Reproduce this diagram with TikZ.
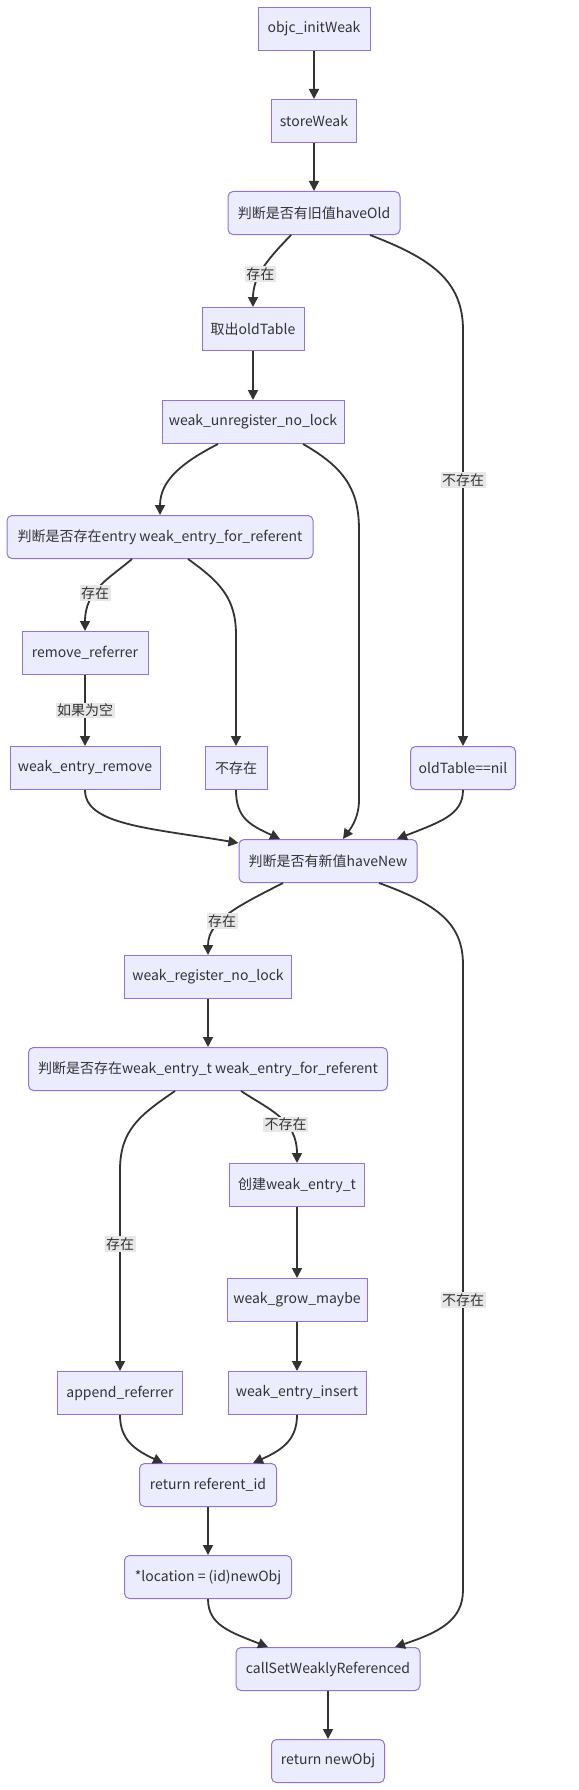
\documentclass[tikz,border=0pt]{standalone}
\usepackage{fontspec}
\setmainfont{Noto Sans CJK SC}
\usetikzlibrary{arrows.meta}
\definecolor{boxfill}{HTML}{ECECFF}
\definecolor{boxline}{HTML}{9370DB}
\definecolor{ink}{HTML}{333333}
\definecolor{lblfill}{HTML}{E8E8E8}

\begin{document}
\begin{tikzpicture}[x=1pt,y=-1pt,
    sq/.style={rectangle,draw=boxline,fill=boxfill,line width=1pt,minimum height=43pt,
      inner sep=2pt,text=ink,font=\fontsize{14pt}{17pt}\selectfont},
    rd/.style={sq,rounded corners=5pt},
    lb/.style={fill=lblfill,inner sep=1.5pt,text=ink,font=\fontsize{14pt}{17pt}\selectfont},
    >={Triangle[length=10pt,width=10pt]}]
    \useasboundingbox (0,0) rectangle (578,1790);

    \draw (314,29)   node[sq,minimum width=112pt](init){objc\_initWeak};
    \draw (314,121)  node[sq,minimum width=85pt](store){storeWeak};
    \draw (314,213)  node[rd,minimum width=172pt](hasold){判断是否有旧值haveOld};
    \draw (253,329)  node[sq,minimum width=102pt](oldtab){取出oldTable};
    \draw (253,422)  node[sq,minimum width=182pt](unreg){weak\_unregister\_no\_lock};
    \draw (160,537)  node[rd,minimum width=306pt](findold){判断是否存在entry weak\_entry\_for\_referent};
    \draw (85,653)   node[sq,minimum width=126pt](rmref){remove\_referrer};
    \draw (85,768)   node[sq,minimum width=150pt](rmentry){weak\_entry\_remove};
    \draw (236,768)  node[sq,minimum width=62pt](noentry){不存在};
    \draw (463,768)  node[rd,minimum width=105pt](oldnil){oldTable==nil};
    \draw (328,861)  node[rd,minimum width=178pt](hasnew){判断是否有新值haveNew};
    \draw (208,977)  node[sq,minimum width=167pt](reg){weak\_register\_no\_lock};
    \draw (208,1069) node[rd,minimum width=359pt](findnew){判断是否存在weak\_entry\_t weak\_entry\_for\_referent};
    \draw (297,1185) node[sq,minimum width=135pt](mkentry){创建weak\_entry\_t};
    \draw (297,1300) node[sq,minimum width=140pt](grow){weak\_grow\_maybe};
    \draw (120,1393) node[sq,minimum width=125pt](append){append\_referrer};
    \draw (297,1393) node[sq,minimum width=138pt](insert){weak\_entry\_insert};
    \draw (208,1485) node[rd,minimum width=137pt](retref){return referent\_id};
    \draw (208,1577) node[rd,minimum width=167pt](loc){*location = (id)newObj};
    \draw (328,1669) node[rd,minimum width=184pt](callset){callSetWeaklyReferenced};
    \draw (328,1761) node[rd,minimum width=113pt](retobj){return newObj};

    \begin{scope}[draw=ink, line width=1.8pt]
        \path[->] (init) edge (store);
        \path[->] (store) edge (hasold);
        \path[->] (oldtab) edge (unreg);
        \path[->] (rmref) edge node[lb] {如果为空} (rmentry);
        \path[->] (reg) edge (findnew);
        \path[->] (mkentry) edge (grow);
        \path[->] (grow) edge (insert);
        \path[->] (retref) edge (loc);
        \path[->] (callset) edge (retobj);
    \end{scope}

    \begin{scope}[draw=ink, line width=1.8pt]
        % old value branch
        \draw[->] ([xshift=-23pt]hasold.south) .. controls (270,257) and (253,275) .. node[lb,pos=0.6] {存在} (oldtab.north);
        \draw[->] ([xshift=56pt]hasold.south) .. controls (430,258) and (463,280) .. (463,330)
            -- node[lb,pos=0.36] {不存在} (oldnil.north);
        \draw[->] ([xshift=-35pt]unreg.south) .. controls (183,462) and (160,480) .. (findold.north);
        \draw[->] ([xshift=50pt]unreg.south) .. controls (345,468) and (359,490) .. (359,530)
            -- (359,800) .. controls (359,820) and (348,832) .. ([xshift=15pt]hasnew.north);
        \draw[->] ([xshift=-28pt]findold.south) .. controls (110,578) and (85,590) .. node[lb,pos=0.6] {存在} (rmref.north);
        \draw[->] ([xshift=28pt]findold.south) .. controls (220,582) and (236,598) .. (236,635) -- (noentry.north);
        \draw[->] (rmentry.south) .. controls (85,825) and (150,828) .. ([yshift=-4pt]hasnew.north west);
        \draw[->] (noentry.south) .. controls (236,818) and (250,825) .. ([xshift=-48pt]hasnew.north);
        \draw[->] (oldnil.south) .. controls (463,815) and (440,822) .. ([xshift=69pt]hasnew.north);
        % new value branch
        \draw[->] ([xshift=-45pt]hasnew.south) .. controls (240,905) and (208,920) .. node[lb,pos=0.6] {存在} (reg.north);
        \draw[->] ([xshift=51pt]hasnew.south) .. controls (440,905) and (463,925) .. (463,965)
            -- node[lb,pos=0.536] {不存在} (463,1590) .. controls (463,1620) and (440,1632) .. ([xshift=67pt]callset.north);
        \draw[->] ([xshift=33pt]findnew.south) .. controls (270,1110) and (297,1120) .. node[lb,pos=0.6] {不存在} (mkentry.north);
        \draw[->] ([xshift=-33pt]findnew.south) .. controls (140,1115) and (120,1130) .. (120,1170)
            -- node[lb,pos=0.37] {存在} (append.north);
        \draw[->] (append.south) .. controls (120,1440) and (135,1450) .. ([xshift=-45pt]retref.north);
        \draw[->] (insert.south) .. controls (297,1440) and (282,1450) .. ([xshift=45pt]retref.north);
        \draw[->] (loc.south) .. controls (208,1625) and (230,1632) .. ([xshift=-60pt]callset.north);
    \end{scope}
\end{tikzpicture}
\end{document}
